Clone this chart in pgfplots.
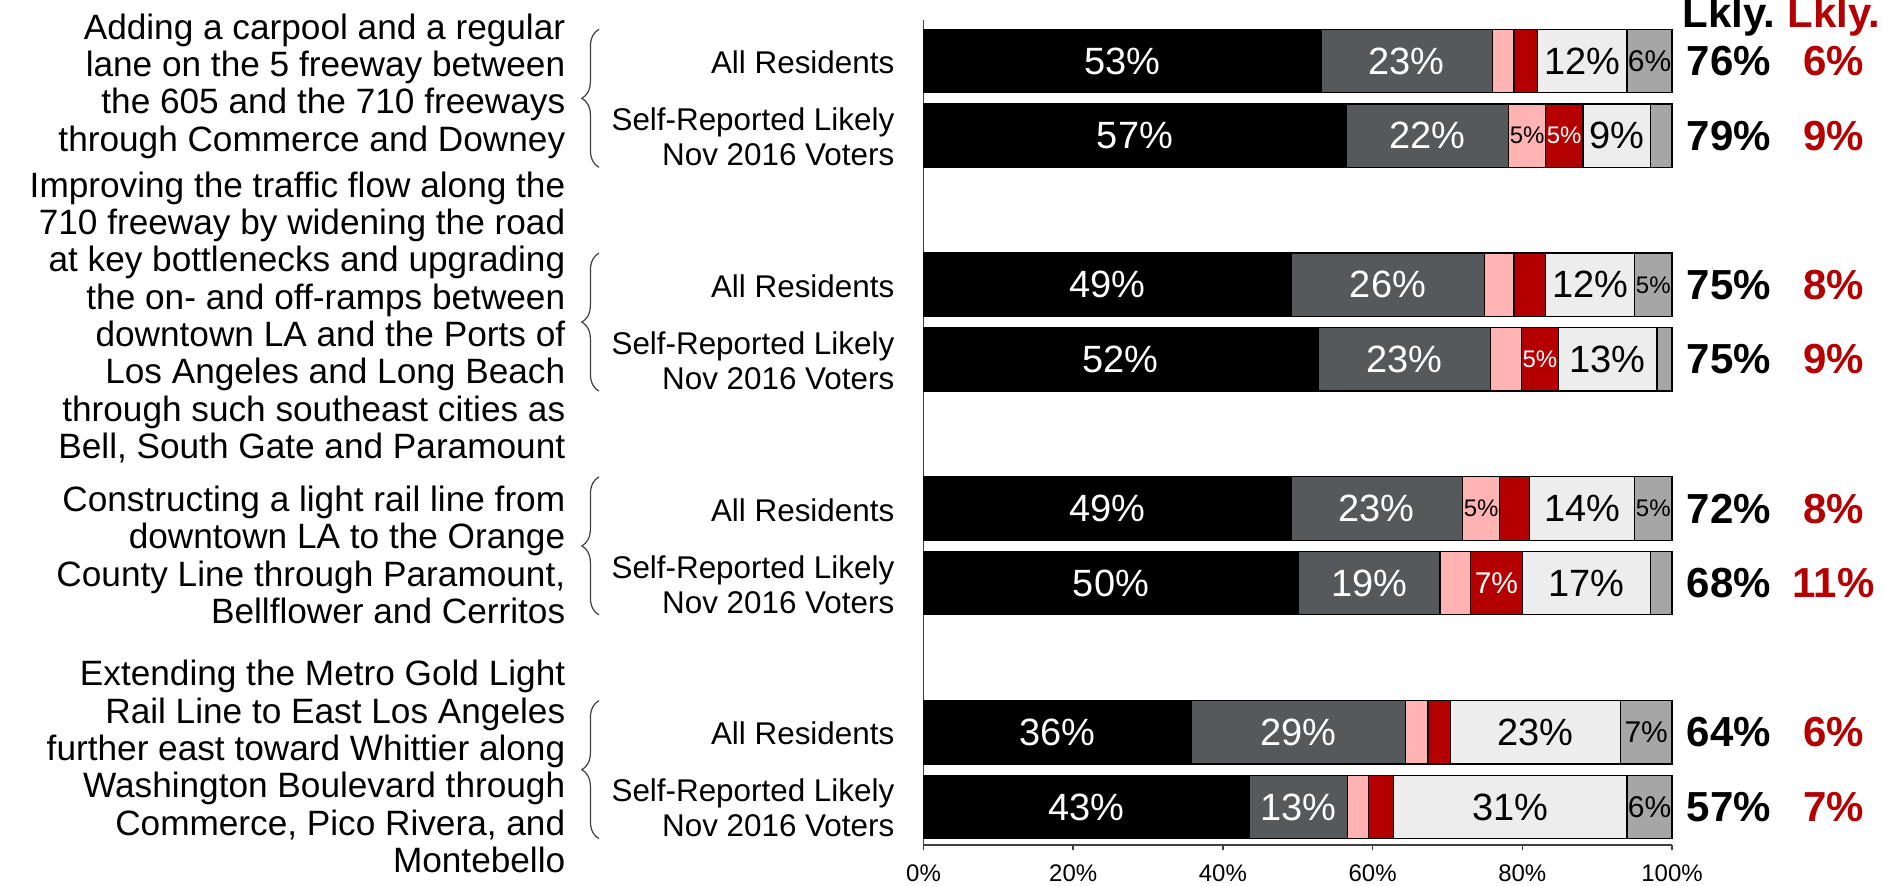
\documentclass[border=0pt]{standalone}
\usepackage{fontspec}
\setmainfont{Liberation Sans}
\usepackage{pgfplots}
\pgfplotsset{compat=1.18}
\usetikzlibrary{decorations.pathreplacing}
\definecolor{cBlack}{HTML}{000000}
\definecolor{cDark}{HTML}{56595C}
\definecolor{cPink}{HTML}{FFB3B3}
\definecolor{cRed}{HTML}{B40000}
\definecolor{cLight}{HTML}{EDEDED}
\definecolor{cGrey}{HTML}{A6A6A6}
\protected\def\sfs{\fontsize{6bp}{7bp}\selectfont}
\protected\def\mfs{\fontsize{7.5bp}{9bp}\selectfont}
\newcommand\qfont{\fontsize{8.8bp}{9.33bp}\selectfont}
\newcommand\catfont{\fontsize{7.85bp}{8.8bp}\selectfont}
\newcommand\numfont{\fontsize{10.5bp}{12bp}\selectfont\bfseries}
\begin{document}
\begin{tikzpicture}
\begin{axis}[
  at={(230.875bp,10.25bp)}, anchor=south west,
  scale only axis, width=187.125bp, height=206.25bp,
  xbar stacked, bar width=0.85,
  xmin=0, xmax=100, ymin=-10.51, ymax=0.55,
  clip=false,
  axis x line*=bottom, axis y line*=left,
  axis line style={draw=black!75, line width=0.4bp},
  xtick={0,20,...,100}, xtick align=outside, major tick length=1.3bp,
  x tick style={draw=black!75, line width=0.4bp},
  xticklabel={\pgfmathprintnumber{\tick}\%},
  /pgf/number format/assume math mode=true,
  xticklabel style={font=\fontsize{6bp}{7bp}\selectfont},
  ytick={0,-1,-3,-4,-6,-7,-9,-10},
  yticklabels={All Residents,{Self-Reported Likely\\Nov 2016 Voters},
               All Residents,{Self-Reported Likely\\Nov 2016 Voters},
               All Residents,{Self-Reported Likely\\Nov 2016 Voters},
               All Residents,{Self-Reported Likely\\Nov 2016 Voters}},
  y tick style={draw=none},
  yticklabel style={align=right, font=\catfont, inner sep=0pt, xshift=-7.1bp, yshift=-0.3bp},
  point meta=explicit symbolic,
  nodes near coords,
  nodes near coords style={anchor=center, inner sep=0pt,
     font=\fontsize{9.5bp}{11bp}\selectfont},
]
\addplot[fill=cBlack, draw=black, line width=0.3bp, nodes near coords style={text=white}] coordinates {
 (53.1,0)[53\%] (56.5,-1)[57\%] (49.1,-3)[49\%] (52.7,-4)[52\%]
 (49.1,-6)[49\%] (50.1,-7)[50\%] (35.8,-9)[36\%] (43.5,-10)[43\%]};
\addplot[fill=cDark, draw=black, line width=0.3bp, nodes near coords style={text=white}] coordinates {
 (22.9,0)[23\%] (21.7,-1)[22\%] (25.9,-3)[26\%] (23.0,-4)[23\%]
 (22.9,-6)[23\%] (18.9,-7)[19\%] (28.6,-9)[29\%] (13.1,-10)[13\%]};
\addplot[fill=cPink, draw=black, line width=0.3bp, nodes near coords style={text=black}] coordinates {
 (2.9,0)[] (4.9,-1)[\sfs 5\%] (3.9,-3)[] (4.2,-4)[]
 (5.0,-6)[\sfs 5\%] (4.1,-7)[] (3.0,-9)[] (2.9,-10)[]};
\addplot[fill=cRed, draw=black, line width=0.3bp, nodes near coords style={text=white}] coordinates {
 (3.1,0)[] (5.0,-1)[\sfs 5\%] (4.2,-3)[] (4.9,-4)[\sfs 5\%]
 (4.0,-6)[] (6.9,-7)[\mfs 7\%] (3.0,-9)[] (3.3,-10)[]};
\addplot[fill=cLight, draw=black, line width=0.3bp, nodes near coords style={text=black}] coordinates {
 (12.0,0)[12\%] (9.0,-1)[9\%] (11.9,-3)[12\%] (13.2,-4)[13\%]
 (14.0,-6)[14\%] (17.1,-7)[17\%] (22.7,-9)[23\%] (31.2,-10)[31\%]};
\addplot[fill=cGrey, draw=black, line width=0.3bp, nodes near coords style={text=black}] coordinates {
 (6.0,0)[\mfs 6\%] (2.9,-1)[] (5.0,-3)[\sfs 5\%] (2.0,-4)[]
 (5.0,-6)[\sfs 5\%] (2.9,-7)[] (6.9,-9)[\mfs 7\%] (6.0,-10)[\mfs 6\%]};

% right-hand totals
\node[font=\numfont, anchor=base] at (axis cs:107.6,0.456) {Lkly.};
\node[font=\numfont, text=cRed, anchor=base] at (axis cs:121.6,0.456) {Lkly.};
\node[font=\numfont] at (axis cs:107.6,0) {76\%};
\node[font=\numfont, text=cRed] at (axis cs:121.6,0) {6\%};
\node[font=\numfont] at (axis cs:107.6,-1) {79\%};
\node[font=\numfont, text=cRed] at (axis cs:121.6,-1) {9\%};
\node[font=\numfont] at (axis cs:107.6,-3) {75\%};
\node[font=\numfont, text=cRed] at (axis cs:121.6,-3) {8\%};
\node[font=\numfont] at (axis cs:107.6,-4) {75\%};
\node[font=\numfont, text=cRed] at (axis cs:121.6,-4) {9\%};
\node[font=\numfont] at (axis cs:107.6,-6) {72\%};
\node[font=\numfont, text=cRed] at (axis cs:121.6,-6) {8\%};
\node[font=\numfont] at (axis cs:107.6,-7) {68\%};
\node[font=\numfont, text=cRed] at (axis cs:121.6,-7) {11\%};
\node[font=\numfont] at (axis cs:107.6,-9) {64\%};
\node[font=\numfont, text=cRed] at (axis cs:121.6,-9) {6\%};
\node[font=\numfont] at (axis cs:107.6,-10) {57\%};
\node[font=\numfont, text=cRed] at (axis cs:121.6,-10) {7\%};

% question texts
\node[anchor=east, align=right, font=\qfont, inner sep=0pt] at (axis cs:-47.76,-0.335)
 {Adding a carpool and a regular\\lane on the 5 freeway between\\the 605 and the 710 freeways\\through Commerce and Downey};
\node[anchor=east, align=right, font=\qfont, inner sep=0pt] at (axis cs:-47.76,-3.438)
 {Improving the traffic flow along the\\710 freeway by widening the road\\at key bottlenecks and upgrading\\the on- and off-ramps between\\downtown LA and the Ports of\\Los Angeles and Long Beach\\through such southeast cities as\\Bell, South Gate and Paramount};
\node[anchor=east, align=right, font=\qfont, inner sep=0pt] at (axis cs:-47.76,-6.622)
 {Constructing a light rail line from\\downtown LA to the Orange\\County Line through Paramount,\\Bellflower and Cerritos};
\node[anchor=east, align=right, font=\qfont, inner sep=0pt] at (axis cs:-47.76,-9.457)
 {Extending the Metro Gold Light\\Rail Line to East Los Angeles\\further east toward Whittier along\\Washington Boulevard through\\Commerce, Pico Rivera, and\\Montebello};

% braces
\draw[black!75, line width=0.3bp, decorate, decoration={brace, amplitude=4.3bp}] (axis cs:-43.35,-1.425) -- (axis cs:-43.35,0.425);
\draw[black!75, line width=0.3bp, decorate, decoration={brace, amplitude=4.3bp}] (axis cs:-43.35,-4.425) -- (axis cs:-43.35,-2.575);
\draw[black!75, line width=0.3bp, decorate, decoration={brace, amplitude=4.3bp}] (axis cs:-43.35,-7.425) -- (axis cs:-43.35,-5.575);
\draw[black!75, line width=0.3bp, decorate, decoration={brace, amplitude=4.3bp}] (axis cs:-43.35,-10.425) -- (axis cs:-43.35,-8.575);
\end{axis}
\pgfresetboundingbox
\path[use as bounding box] (0,0) rectangle (470.75bp,221.5bp);
\end{tikzpicture}
\end{document}
